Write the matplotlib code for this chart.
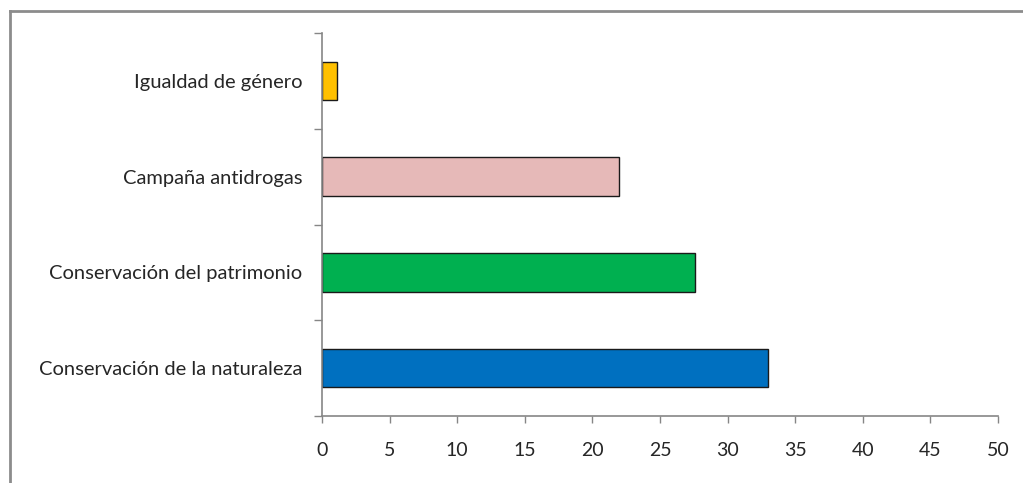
import matplotlib
matplotlib.use("Agg")
import matplotlib.pyplot as plt
from matplotlib.lines import Line2D

# Data
categories = ["Conservación de la naturaleza", "Conservación del patrimonio",
              "Campaña antidrogas", "Igualdad de género"]
values = [33.0, 27.6, 22.0, 1.1]
colors = ["#0070C0", "#00B050", "#E6B9B8", "#FFC000"]
x_ticks = [0, 5, 10, 15, 20, 25, 30, 35, 40, 45, 50]

plt.rcParams["font.family"] = ["Lato", "DejaVu Sans"]

fig = plt.figure(figsize=(10.23, 4.83), dpi=100)
ax = fig.add_axes([322 / 1023, 1 - 416 / 483, (998 - 322) / 1023, (416 - 33) / 483])

pos = list(range(len(categories)))
ax.barh(pos, values, height=0.4, color=colors, edgecolor="#1a1a1a", linewidth=1.0)

ax.set_xlim(0, 50)
ax.set_ylim(-0.5, len(categories) - 0.5)
ax.set_xticks(x_ticks)
ax.set_xticklabels([str(t) for t in x_ticks])

# category labels centred on bars, ticks on the band boundaries
ax.set_yticks(pos)
ax.set_yticklabels(categories)
ax.tick_params(axis="y", length=0, pad=14)
ax.set_yticks([p - 0.5 for p in pos] + [len(categories) - 0.5], minor=True)
ax.tick_params(axis="y", which="minor", length=6, color="#868686", width=1, direction="out")
ax.tick_params(axis="x", length=5, color="#868686", width=1, pad=14)

for lab in ax.get_yticklabels():
    lab.set_fontsize(14.5)
    lab.set_color("#262626")
for lab in ax.get_xticklabels():
    lab.set_fontsize(14)
    lab.set_color("#262626")

for side in ["top", "right"]:
    ax.spines[side].set_visible(False)
for side in ["left", "bottom"]:
    ax.spines[side].set_color("#868686")
    ax.spines[side].set_linewidth(1.2)

# chart area border running off the right and bottom edges
fx0, fy0 = 9.5 / 1023, 1 - 10.5 / 483
fig.add_artist(Line2D([fx0, 1.01], [fy0, fy0], transform=fig.transFigure, color="#8c8c8c", lw=2))
fig.add_artist(Line2D([fx0, fx0], [fy0, -0.01], transform=fig.transFigure, color="#8c8c8c", lw=2))

fig.savefig("out.png", dpi=100)
